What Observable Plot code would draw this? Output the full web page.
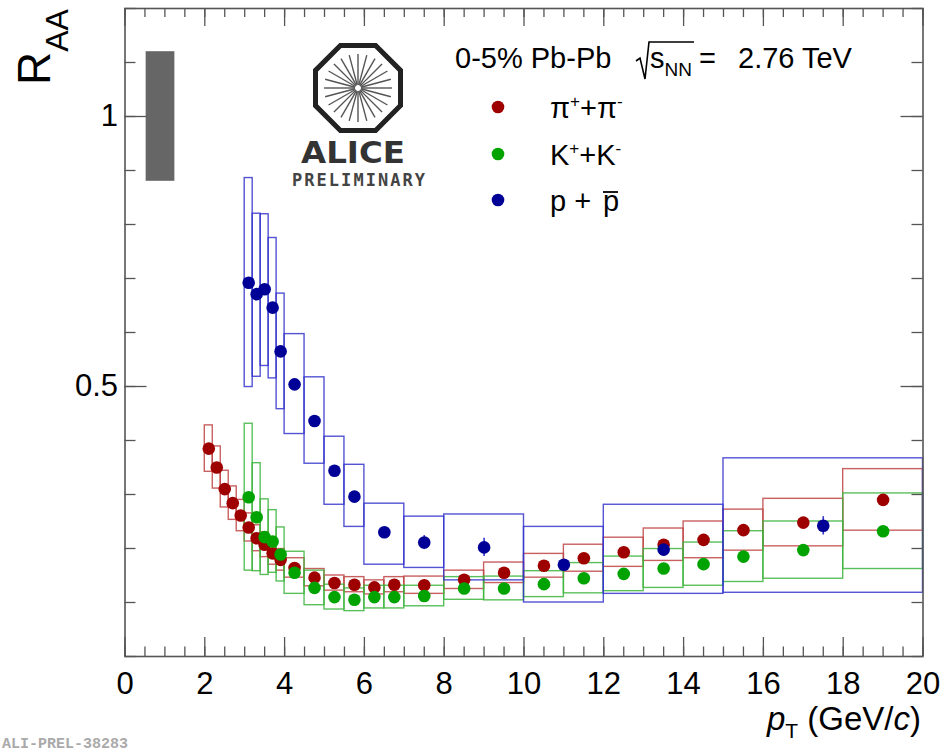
<!DOCTYPE html>
<html><head><meta charset="utf-8">
<script src="https://cdn.jsdelivr.net/npm/d3@7"></script>
<script src="https://cdn.jsdelivr.net/npm/@observablehq/plot@0.6"></script>
<style>
html,body{margin:0;padding:0;background:#fff;}
#wrap{position:relative;width:944px;height:752px;overflow:hidden;font-family:"Liberation Sans",Arial,sans-serif;}
#wrap svg{display:block;}
#overlay{position:absolute;left:0;top:0;pointer-events:none;}
</style></head><body><div id="wrap"></div>
<script>
// ---- data ----
const pionPt    = [2.1,2.3,2.5,2.7,2.9,3.1,3.3,3.5,3.7,3.9,4.25,4.75,5.25,5.75,6.25,6.75,7.5,8.5,9.5,10.5,11.5,12.5,13.5,14.5,15.5,17,19];
const pionBinLo = [2.0,2.2,2.4,2.6,2.8,3.0,3.2,3.4,3.6,3.8,4.0,4.5,5.0,5.5,6.0,6.5,7,8,9,10,11,12,13,14,15,16,18];
const pionBinHi = [2.2,2.4,2.6,2.8,3.0,3.2,3.4,3.6,3.8,4.0,4.5,5.0,5.5,6.0,6.5,7.0,8,9,10,11,12,13,14,15,16,18,20];
const pionRaa   = [0.385,0.350,0.310,0.284,0.261,0.239,0.219,0.207,0.191,0.179,0.164,0.146,0.136,0.133,0.128,0.133,0.132,0.142,0.155,0.168,0.182,0.193,0.207,0.216,0.234,0.248,0.290];
const pionSys   = [0.043,0.039,0.034,0.031,0.029,0.026,0.024,0.023,0.021,0.020,0.018,0.016,0.014,0.014,0.013,0.014,0.016,0.017,0.019,0.022,0.025,0.027,0.030,0.034,0.038,0.044,0.057];

const kaonPt    = [3.1,3.3,3.5,3.7,3.9,4.25,4.75,5.25,5.75,6.25,6.75,7.5,8.5,9.5,10.5,11.5,12.5,13.5,14.5,15.5,17,19];
const kaonBinLo = [3.0,3.2,3.4,3.6,3.8,4.0,4.5,5.0,5.5,6.0,6.5,7,8,9,10,11,12,13,14,15,16,18];
const kaonBinHi = [3.2,3.4,3.6,3.8,4.0,4.5,5.0,5.5,6.0,6.5,7.0,8,9,10,11,12,13,14,15,16,18,20];
const kaonRaa   = [0.295,0.258,0.221,0.213,0.189,0.155,0.127,0.110,0.105,0.110,0.110,0.112,0.126,0.126,0.134,0.145,0.153,0.163,0.171,0.185,0.197,0.232];
const kaonSys   = [0.136,0.100,0.070,0.058,0.050,0.039,0.032,0.023,0.021,0.021,0.021,0.019,0.021,0.022,0.024,0.028,0.032,0.036,0.040,0.047,0.053,0.070];

const protonPt    = [3.1,3.3,3.5,3.7,3.9,4.25,4.75,5.25,5.75,6.5,7.5,9,11,13.5,17.5];
const protonBinLo = [3.0,3.2,3.4,3.6,3.8,4.0,4.5,5.0,5.5,6,7,8,10,12,15];
const protonBinHi = [3.2,3.4,3.6,3.8,4.0,4.5,5.0,5.5,6.0,7,8,10,12,15,20];
const protonRaa   = [0.692,0.671,0.680,0.646,0.565,0.504,0.436,0.344,0.296,0.230,0.211,0.202,0.170,0.198,0.242];
const protonSysLo = [0.499,0.518,0.538,0.515,0.458,0.412,0.357,0.281,0.240,0.170,0.164,0.141,0.100,0.116,0.118];
const protonSysHi = [0.886,0.820,0.819,0.775,0.672,0.597,0.517,0.407,0.355,0.283,0.259,0.263,0.240,0.281,0.367];
const protonStat  = [0.005,0.005,0.005,0.005,0.005,0.005,0.005,0.006,0.006,0.007,0.013,0.017,0.009,0.012,0.017];

const globalUncX = [0.53, 1.25];
const globalUncY = [0.88, 1.12];

const xTicks = [0,2,4,6,8,10,12,14,16,18,20];
const yTicks = [0.5, 1];
const yTickLabels = ["0.5", "1"];

const pointColors = ["#9e0000", "#00a300", "#000096"];
const boxColors   = ["#c04444", "#3db43d", "#3535cc"];

// ---- build rows ----
const pion = pionPt.map((x,i)=>({x, y:pionRaa[i], x1:pionBinLo[i], x2:pionBinHi[i], lo:pionRaa[i]-pionSys[i], hi:pionRaa[i]+pionSys[i]}));
const kaon = kaonPt.map((x,i)=>({x, y:kaonRaa[i], x1:kaonBinLo[i], x2:kaonBinHi[i], lo:kaonRaa[i]-kaonSys[i], hi:kaonRaa[i]+kaonSys[i]}));
const proton = protonPt.map((x,i)=>({x, y:protonRaa[i], x1:protonBinLo[i], x2:protonBinHi[i], lo:protonSysLo[i], hi:protonSysHi[i], s:protonStat[i]}));

const W=944, H=752, mL=124.5, mR=21.5, mT=8, mB=96;
const innerW = W-mL-mR, innerH = H-mT-mB;
const xMinor = d3.range(0, 20.001, 0.5);
const yMinor = d3.range(0, 1.2001, 0.1);
const axisCol = "#555";

const boxMark = (rows, c) => Plot.rect(rows, {x1:"x1", x2:"x2", y1:"lo", y2:"hi", fill:"none", stroke:c, strokeWidth:1.4, strokeOpacity:0.85});

const plot = Plot.plot({
  width: W, height: H,
  marginLeft: mL, marginRight: mR, marginTop: mT, marginBottom: mB,
  x: {domain:[0,20]},
  y: {domain:[0,1.2]},
  style: {fontFamily:"Liberation Sans, Arial, sans-serif", background:"transparent", color:"#000"},
  marks: [
    Plot.rect([0], {x1:()=>globalUncX[0], x2:()=>globalUncX[1], y1:()=>globalUncY[0], y2:()=>globalUncY[1], fill:"#666"}),
    boxMark(pion, boxColors[0]),
    boxMark(kaon, boxColors[1]),
    boxMark(proton, boxColors[2]),
    Plot.ruleX(proton, {x:"x", y1:d=>d.y-d.s, y2:d=>d.y+d.s, stroke:boxColors[2], strokeWidth:1.6}),
    Plot.dot(pion, {x:"x", y:"y", r:6.3, fill:pointColors[0], stroke:"none"}),
    Plot.dot(kaon, {x:"x", y:"y", r:6.3, fill:pointColors[1], stroke:"none"}),
    Plot.dot(proton, {x:"x", y:"y", r:6.3, fill:pointColors[2], stroke:"none"}),
    Plot.frame({stroke:axisCol, strokeWidth:1.6}),
    // inward ticks, ROOT style
    Plot.ruleX(xMinor, {x:d=>d, insetTop:innerH-9.5, stroke:axisCol, strokeWidth:1.3}),
    Plot.ruleX(xTicks, {x:d=>d, insetTop:innerH-19, stroke:axisCol, strokeWidth:1.3}),
    Plot.ruleX(xMinor, {x:d=>d, insetBottom:innerH-9, stroke:axisCol, strokeWidth:1.3}),
    Plot.ruleX(xTicks, {x:d=>d, insetBottom:innerH-18, stroke:axisCol, strokeWidth:1.3}),
    Plot.ruleY(yMinor, {y:d=>d, insetRight:innerW-11, stroke:axisCol, strokeWidth:1.3}),
    Plot.ruleY(yTicks, {y:d=>d, insetRight:innerW-22, stroke:axisCol, strokeWidth:1.3}),
    Plot.ruleY(yMinor, {y:d=>d, insetLeft:innerW-11, stroke:axisCol, strokeWidth:1.3}),
    Plot.ruleY(yTicks, {y:d=>d, insetLeft:innerW-22, stroke:axisCol, strokeWidth:1.3}),
    Plot.axisX(xTicks, {tickSize:0, tickPadding:15, fontSize:31, label:null}),
    Plot.axisY(yTicks, {tickSize:0, tickPadding:7, fontSize:31, label:null, tickFormat:(d)=>yTickLabels[yTicks.indexOf(d)]})
  ]
});
const wrap = document.getElementById("wrap");
wrap.appendChild(plot);

// ---- overlay: axis titles, header, legend, logo ----
const octR = 46;
const oct = d3.range(8).map(k=>{const a=(22.5+45*k)*Math.PI/180; return [octR*Math.cos(a), octR*Math.sin(a)];});
const spokes = d3.range(24).map(k=>{const a=k*15*Math.PI/180; return `<line x1="${(3*Math.cos(a)).toFixed(2)}" y1="${(3*Math.sin(a)).toFixed(2)}" x2="${(34*Math.cos(a)).toFixed(2)}" y2="${(34*Math.sin(a)).toFixed(2)}"/>`;}).join("");
const legY = [107, 154, 200];
const legBase = [118, 165, 211];
const legTexts = [
  `π<tspan font-size="17" dy="-11">+</tspan><tspan dy="11">+π</tspan><tspan font-size="17" dy="-11">-</tspan>`,
  `K<tspan font-size="17" dy="-11">+</tspan><tspan dy="11">+K</tspan><tspan font-size="17" dy="-11">-</tspan>`,
  `p + `
];
let legend = "";
for (let i=0;i<3;i++){
  legend += `<circle cx="498" cy="${legY[i]}" r="6.3" fill="${pointColors[i]}"/>`;
  legend += `<text x="550" y="${legBase[i]}" font-size="29">${legTexts[i]}</text>`;
}
legend += `<text x="603" y="${legBase[2]}" font-size="29">p</text><line x1="603" y1="192" x2="618" y2="192" stroke="#000" stroke-width="1.8"/>`;

const ov = `
<svg id="overlay" width="${W}" height="${H}" xmlns="http://www.w3.org/2000/svg" font-family="Liberation Sans, Arial, sans-serif">
  <text transform="translate(50,85) rotate(-90)" font-size="46">R<tspan font-size="32" dy="18">AA</tspan></text>
  <text x="921" y="730" font-size="33" text-anchor="end"><tspan font-style="italic">p</tspan><tspan font-size="21" dy="8">T</tspan><tspan dy="-8"> (GeV/</tspan><tspan font-style="italic">c</tspan>)</text>
  <text x="2" y="748" font-size="15" font-family="Liberation Mono, monospace" font-weight="bold" fill="#aaa">ALI-PREL-38283</text>
  <text x="455" y="68" font-size="29">0-5% Pb-Pb</text>
  <path d="M636,61 L640,58 L645,79 L649,42 L694,42" fill="none" stroke="#000" stroke-width="1.6"/>
  <text x="650" y="68" font-size="29">s<tspan font-size="19" dy="8">NN</tspan></text>
  <text x="699" y="68" font-size="29">=</text>
  <text x="738" y="68" font-size="29">2.76 TeV</text>
  ${legend}
  <g transform="translate(358,88)">
    <path d="M${oct.map(p=>p[0].toFixed(2)+","+p[1].toFixed(2)).join("L")}Z" fill="none" stroke="#222" stroke-width="5"/>
    <g stroke="#555" stroke-width="1.4">${spokes}</g>
  </g>
  <text x="301" y="163" font-size="30" font-family="DejaVu Sans, sans-serif" font-weight="bold" fill="#333" textLength="104" lengthAdjust="spacingAndGlyphs">ALICE</text>
  <text x="292" y="186" font-size="17" font-family="DejaVu Sans Mono, monospace" font-weight="bold" fill="#444" textLength="133" lengthAdjust="spacing">PRELIMINARY</text>
</svg>`;
wrap.insertAdjacentHTML("beforeend", ov);
</script>
</body></html>
